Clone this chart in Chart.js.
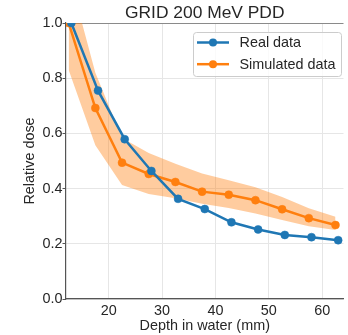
<!DOCTYPE html>
<html>
<head>
<meta charset="utf-8">
<script src="https://cdn.jsdelivr.net/npm/chart.js@4"></script>
<style>
  html, body { margin: 0; padding: 0; background: #fff; }
</style>
</head>
<body>
<canvas id="pdd" width="348" height="335"></canvas>
<script>
// depth (mm) and normalised dose for the measured curve
var realDepth = [13, 18, 23, 28, 33, 38, 43, 48, 53, 58, 63];
var realDose = [1.0, 0.755, 0.579, 0.464, 0.363, 0.326, 0.278, 0.252, 0.232, 0.224, 0.213];

// simulated curve, with its lower / upper uncertainty band
var simDepth = [12.5, 17.5, 22.5, 27.5, 32.5, 37.5, 42.5, 47.5, 52.5, 57.5, 62.5];
var simDose = [1.0, 0.692, 0.494, 0.453, 0.424, 0.389, 0.378, 0.358, 0.325, 0.293, 0.268];
var simLow = [0.83, 0.557, 0.413, 0.38, 0.365, 0.345, 0.33, 0.31, 0.286, 0.264, 0.25];
var simHigh = [1.18, 0.82, 0.583, 0.529, 0.49, 0.455, 0.43, 0.405, 0.37, 0.329, 0.298];

var xTicks = [20, 30, 40, 50, 60];
var yTicks = [0, 0.2, 0.4, 0.6, 0.8, 1.0];

var FONT = "'Liberation Sans', Arial, sans-serif";
var TEXT = "#262626";
var BLUE = "#1f77b4";
var ORANGE = "#ff7f0e";

function toPoints(xs, ys) {
  return xs.map(function(x, i) { return {x: x, y: ys[i]}; });
}

// title centred over the plot area, boxed legend in the top right corner
var decorations = {
  id: "decorations",
  afterDraw: function(chart) {
    var ctx = chart.ctx;
    var area = chart.chartArea;
    ctx.save();
    ctx.fillStyle = TEXT;
    ctx.font = "17.4px " + FONT;
    ctx.textAlign = "center";
    ctx.textBaseline = "middle";
    ctx.fillText("GRID 200 MeV PDD", (area.left + area.right) / 2, 13);

    var sets = chart.data.datasets.slice(0, 2);
    var x = 193, y = 32, w = 148, h = 44;
    ctx.beginPath();
    ctx.roundRect(x + 0.5, y + 0.5, w, h, 3);
    ctx.fillStyle = "rgba(255,255,255,0.8)";
    ctx.fill();
    ctx.strokeStyle = "#cccccc";
    ctx.lineWidth = 1;
    ctx.stroke();
    ctx.font = "14.4px " + FONT;
    ctx.textAlign = "left";
    sets.forEach(function(ds, i) {
      var ly = y + 10.5 + i * 21.7;
      ctx.strokeStyle = ds.borderColor;
      ctx.lineWidth = 2.5;
      ctx.beginPath();
      ctx.moveTo(x + 4, ly);
      ctx.lineTo(x + 36, ly);
      ctx.stroke();
      ctx.fillStyle = ds.borderColor;
      ctx.beginPath();
      ctx.arc(x + 20, ly, 4, 0, Math.PI * 2);
      ctx.fill();
      ctx.fillStyle = TEXT;
      ctx.fillText(ds.label, x + 46.5, ly + 1);
    });
    ctx.restore();
  }
};

var ctx = document.getElementById("pdd").getContext("2d");

var chart = new Chart(ctx, {
  type: "line",
  data: {
    datasets: [{
      label: "Real data",
      data: toPoints(realDepth, realDose),
      borderColor: BLUE,
      backgroundColor: BLUE,
      borderWidth: 2.5,
      pointRadius: 4,
      pointBorderWidth: 0.5,
      clip: 0
    }, {
      label: "Simulated data",
      data: toPoints(simDepth, simDose),
      borderColor: ORANGE,
      backgroundColor: ORANGE,
      borderWidth: 2.5,
      pointRadius: 4,
      pointBorderWidth: 0.5,
      clip: 0
    }, {
      label: "sim low",
      data: toPoints(simDepth, simLow),
      borderWidth: 0,
      borderColor: "rgba(0,0,0,0)",
      pointRadius: 0,
      fill: false,
      clip: 0
    }, {
      label: "sim high",
      data: toPoints(simDepth, simHigh),
      borderWidth: 0,
      borderColor: "rgba(0,0,0,0)",
      backgroundColor: "rgba(255,127,14,0.4)",
      pointRadius: 0,
      fill: "-1",
      clip: 0
    }]
  },
  options: {
    responsive: false,
    animation: false,
    layout: { padding: { top: 23, left: 0, right: 0, bottom: 0 } },
    plugins: {
      legend: { display: false },
      tooltip: { enabled: false },
      title: { display: false }
    },
    scales: {
      x: {
        type: "linear",
        min: 12,
        max: 64,
        afterBuildTicks: function(scale) {
          scale.ticks = xTicks.map(function(v) { return {value: v}; });
        },
        afterFit: function(scale) { scale.height = 36; },
        ticks: {
          color: TEXT,
          font: { family: FONT, size: 14.4 },
          padding: 3,
          maxRotation: 0
        },
        grid: {
          color: "#e6e6e6",
          lineWidth: 1,
          drawTicks: false
        },
        border: { display: true, color: "#555555", width: 1.2 },
        title: {
          display: true,
          text: "Depth in water (mm)",
          color: TEXT,
          font: { family: FONT, size: 14.4 },
          padding: { top: 0, bottom: 0 }
        }
      },
      y: {
        type: "linear",
        min: 0,
        max: 1,
        afterBuildTicks: function(scale) {
          scale.ticks = yTicks.map(function(v) { return {value: v}; });
        },
        afterFit: function(scale) { scale.width = 66; },
        ticks: {
          color: TEXT,
          font: { family: FONT, size: 14.4 },
          padding: 0,
          callback: function(v) { return v.toFixed(1); }
        },
        grid: {
          color: function(c) {
            return c.tick && c.tick.value === 1 ? "#8a8a8a" : "#e6e6e6";
          },
          lineWidth: 1,
          tickLength: 3.5,
          tickColor: "#555555"
        },
        border: { display: true, color: "#555555", width: 1.2 },
        title: {
          display: true,
          text: "Relative dose",
          color: TEXT,
          font: { family: FONT, size: 14.4 },
          padding: { top: 21, bottom: 0 }
        }
      }
    }
  },
  plugins: [decorations]
});
</script>
</body>
</html>
